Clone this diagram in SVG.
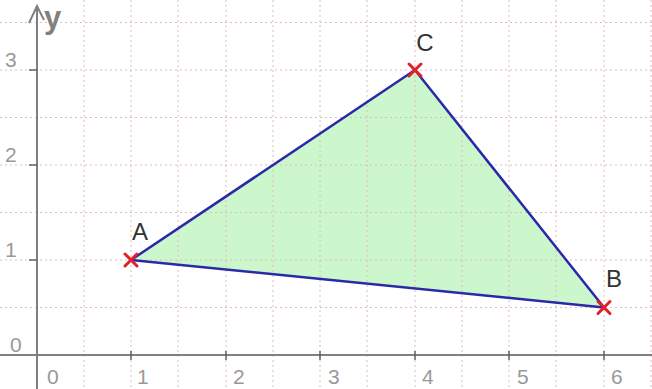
<svg xmlns="http://www.w3.org/2000/svg" width="652" height="389" viewBox="0 0 652 389">
<style>
.grid line{stroke:#dcbcbc;stroke-width:1;stroke-dasharray:2,3}
.axis{stroke:#808080;stroke-width:2;fill:none}
.tick{stroke:#606060;stroke-width:1.5}
.num{font-family:"Liberation Sans",Arial,sans-serif;font-size:21px;fill:#999999}
.lbl{font-family:"Liberation Sans",Arial,sans-serif;font-size:24px;fill:#333333;text-anchor:middle}
.edge{stroke:#2a2aa8;stroke-width:2.5;fill:none;stroke-linecap:round}
.mark{stroke:#e0202a;stroke-width:3;stroke-linecap:round}
</style>
<rect width="652" height="389" fill="#ffffff"/>
<polygon id="fill" points="131,260 415,70 604,307.5" fill="#ccf7cc"/>
<g class="grid">
<line x1="84" y1="0" x2="84" y2="389"/>
<line x1="131" y1="0" x2="131" y2="389"/>
<line x1="178" y1="0" x2="178" y2="389"/>
<line x1="226" y1="0" x2="226" y2="389"/>
<line x1="273" y1="0" x2="273" y2="389"/>
<line x1="320" y1="0" x2="320" y2="389"/>
<line x1="367" y1="0" x2="367" y2="389"/>
<line x1="415" y1="0" x2="415" y2="389"/>
<line x1="462" y1="0" x2="462" y2="389"/>
<line x1="509" y1="0" x2="509" y2="389"/>
<line x1="556" y1="0" x2="556" y2="389"/>
<line x1="604" y1="0" x2="604" y2="389"/>
<line x1="651" y1="0" x2="651" y2="389"/>
<line x1="0" y1="22.5" x2="652" y2="22.5"/>
<line x1="0" y1="70" x2="652" y2="70"/>
<line x1="0" y1="117.5" x2="652" y2="117.5"/>
<line x1="0" y1="165" x2="652" y2="165"/>
<line x1="0" y1="212.5" x2="652" y2="212.5"/>
<line x1="0" y1="260" x2="652" y2="260"/>
<line x1="0" y1="307.5" x2="652" y2="307.5"/>
</g>
<g id="axes">
<line class="axis" x1="0" y1="355" x2="652" y2="355"/>
<line class="axis" x1="37" y1="6" x2="37" y2="389"/>
<polyline class="axis" points="29,23 37,6 44,20" stroke-width="2.5"/>
<text x="44" y="28" font-family="Liberation Sans,Arial,sans-serif" font-size="31" font-weight="bold" fill="#808080">y</text>
<line class="tick" x1="131" y1="351" x2="131" y2="360"/>
<line class="tick" x1="226" y1="351" x2="226" y2="360"/>
<line class="tick" x1="320" y1="351" x2="320" y2="360"/>
<line class="tick" x1="415" y1="351" x2="415" y2="360"/>
<line class="tick" x1="509" y1="351" x2="509" y2="360"/>
<line class="tick" x1="604" y1="351" x2="604" y2="360"/>
<line class="tick" x1="29" y1="70" x2="37" y2="70"/>
<line class="tick" x1="29" y1="165" x2="37" y2="165"/>
<line class="tick" x1="29" y1="260" x2="37" y2="260"/>
<text class="num" x="5" y="67">3</text>
<text class="num" x="5" y="162">2</text>
<text class="num" x="5" y="257">1</text>
<text class="num" x="10" y="352">0</text>
<text class="num" x="47" y="384">0</text>
<text class="num" x="137" y="384">1</text>
<text class="num" x="233" y="384">2</text>
<text class="num" x="328" y="384">3</text>
<text class="num" x="422" y="384">4</text>
<text class="num" x="517" y="384">5</text>
<text class="num" x="611" y="384">6</text>
</g>
<g id="connectors">
<line class="edge" x1="131" y1="260" x2="415" y2="70"/>
<line class="edge" x1="415" y1="70" x2="604" y2="307.5"/>
<line class="edge" x1="604" y1="307.5" x2="131" y2="260"/>
</g>
<g id="A">
<path class="mark" d="M125,254 L137,266 M137,254 L125,266"/>
<text class="lbl" x="140" y="240">A</text>
</g>
<g id="C">
<path class="mark" d="M409,64 L421,76 M421,64 L409,76"/>
<text class="lbl" x="425" y="51">C</text>
</g>
<g id="B">
<path class="mark" d="M598,301.5 L610,313.5 M610,301.5 L598,313.5"/>
<text class="lbl" x="614" y="287">B</text>
</g>
</svg>
